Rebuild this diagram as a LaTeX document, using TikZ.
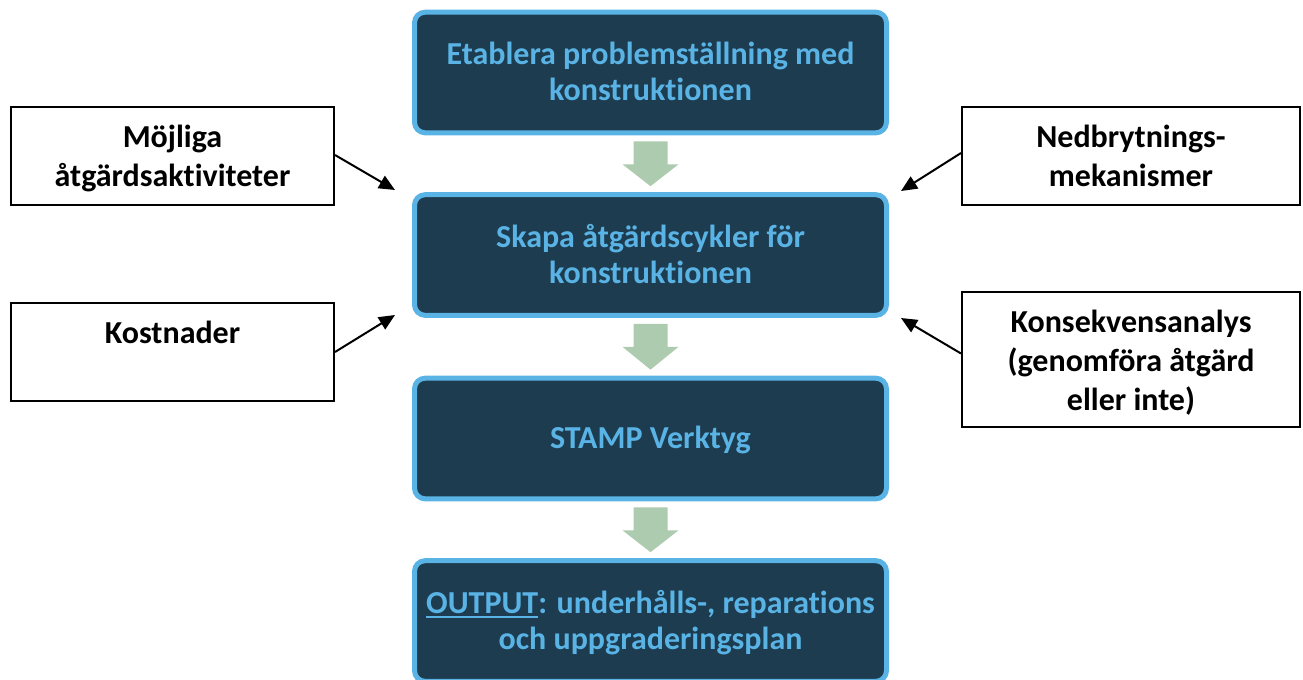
\documentclass[tikz,border=0pt]{standalone}
\usepackage{fontspec}
\setmainfont{Carlito}[RawFeature={-liga}]
\usetikzlibrary{arrows.meta,calc}

\definecolor{stepfill}{HTML}{1D3C4F}
\definecolor{stepline}{HTML}{5AB3E5}
\definecolor{flowgreen}{HTML}{ADCBAE}

% underline drawn as a rule a little below the baseline
\newcommand\outputmark[1]{\setbox0\hbox{#1}\rlap{\rule[-3.6pt]{\wd0}{1.6pt}}\box0}

% broad green arrow from the bottom of one step box to the top of the next
\newcommand\flowarrow[2]{%
  \fill[flowgreen]
    ($(#1.south)+(-17,6)$) -- ($(#1.south)+(17,6)$) --
    ($(#1.south)+(17,29)$) -- ($(#1.south)+(28,29)$) --
    ($(#2.north)+(0,-6)$) --
    ($(#1.south)+(-28,29)$) -- ($(#1.south)+(-17,29)$) -- cycle;}

\begin{document}
\begin{tikzpicture}[x=0.75pt,y=-0.75pt,
  stepbox/.style={draw=stepline, fill=stepfill, line width=3.75pt,
    rounded corners=8pt, minimum width=354pt, minimum height=90.5pt,
    inner sep=0pt},
  steptext/.style={anchor=north, inner sep=0pt, text=stepline, align=center,
    font=\fontsize{24}{27}\selectfont\bfseries},
  infobox/.style={draw=black, line width=1.5pt, fill=white, inner sep=0pt},
  infotext/.style={anchor=north, inner sep=0pt, align=center,
    font=\fontsize{24}{29}\selectfont\bfseries},
  feed/.style={line width=1.5pt, -{Triangle[length=12pt,width=10.5pt]}}]

\useasboundingbox (0,0) rectangle (1303,679);
\clip (0,0) rectangle (1303,679);

% main chain of steps
\node[stepbox] (s1) at (650.5,72.5) {};
\node[stepbox] (s2) at (650.5,255) {};
\node[stepbox] (s3) at (650.5,438.5) {};
\node[stepbox] (s4) at (650.5,621) {};
\node[steptext] (l1) at ($(s1.north)+(0,32)$) {Etablera problemställning med\\konstruktionen};
\node[steptext] (l2) at ($(s2.north)+(0,32)$) {Skapa åtgärdscykler för\\konstruktionen};
\node[steptext] (l3) at ($(s3.north)+(0,50)$) {STAMP Verktyg};
\node[steptext] (l4) at ($(s4.north)+(0,32)$) {\outputmark{OUTPUT}: underhålls-, reparations\\och uppgraderingsplan};

\flowarrow{s1}{s2}
\flowarrow{s2}{s3}
\flowarrow{s3}{s4}

% inputs on the left
\node[infobox, minimum width=242.25pt, minimum height=73.5pt] (mb) at (172.5,156) {};
\node[infotext] (mt) at ($(mb.north)+(0,19)$) {Möjliga\\åtgärdsaktiviteter};
\node[infobox, minimum width=242.25pt, minimum height=73.5pt] (kb) at (172.5,352) {};
\node[infotext] (kt) at ($(kb.north)+(0,19)$) {Kostnader};

% inputs on the right
\node[infobox, minimum width=253.5pt, minimum height=73.5pt] (nb) at (1131,156) {};
\node[infotext] (nt) at ($(nb.north)+(0,19)$) {Nedbrytnings-\\mekanismer};
\node[infobox, minimum width=253.5pt, minimum height=101.25pt] (ab) at (1131,359.5) {};
\node[infotext] (at) at ($(ab.north)+(0,19)$) {Konsekvensanalys\\(genomföra åtgärd\\eller inte)};

% arrow tips beside the second step
\coordinate (tml) at (395,190);
\coordinate (tkl) at (395,315);
\coordinate (tnr) at (901,191);
\coordinate (tar) at (901,318);

\draw[feed] ($(mb.east)+(0,-1)$) -- (tml);
\draw[feed] (kb.east) -- (tkl);
\draw[feed] ($(nb.west)+(0,-3)$) -- (tnr);
\draw[feed] ($(ab.west)+(0,-6)$) -- (tar);
\end{tikzpicture}
\end{document}
